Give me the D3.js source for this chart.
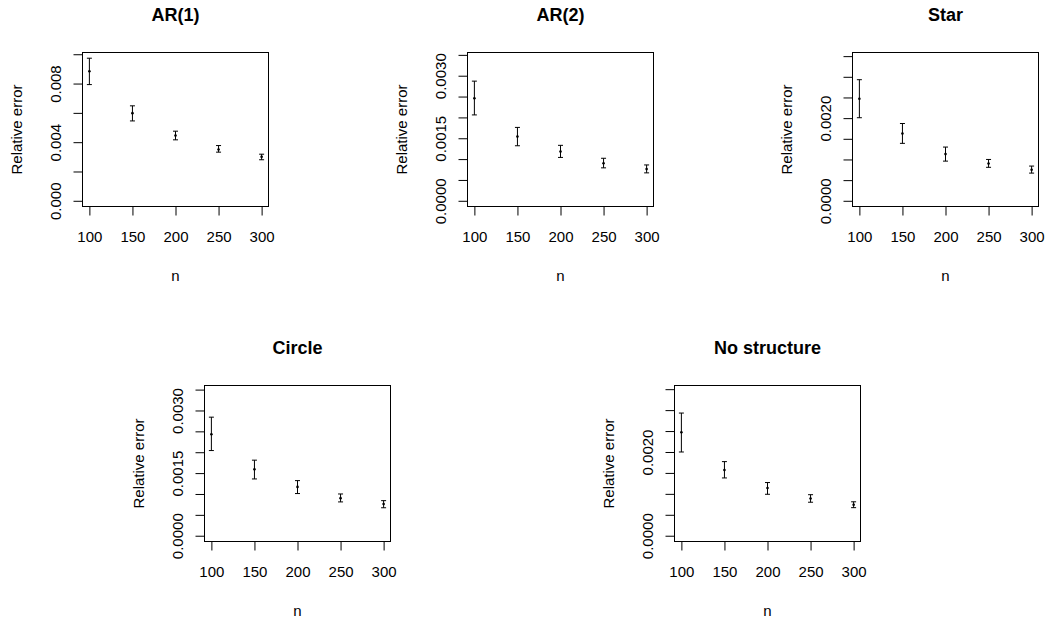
<!DOCTYPE html>
<html>
<head>
<meta charset="utf-8">
<script src="https://cdn.jsdelivr.net/npm/d3@7"></script>
<style>
  html, body { margin: 0; padding: 0; background: #ffffff; }
  svg text { font-family: "Liberation Sans", Arial, sans-serif; fill: #000; }
</style>
</head>
<body>
<div id="chart"></div>
<script>
// ############################################################################
// Relative error by n, one small panel per covariance structure
// ############################################################################

// ----------------------------------------------------------------------------
// Data
// ----------------------------------------------------------------------------

const nValues = [100, 150, 200, 250, 300]

const panelTitles = ["AR(1)", "AR(2)", "Star", "Circle", "No structure"]

const ar1Mean  = [0.00884, 0.00598, 0.00445, 0.00350, 0.00300]
const ar1Lower = [0.00793, 0.00545, 0.00416, 0.00332, 0.00280]
const ar1Upper = [0.00973, 0.00648, 0.00475, 0.00377, 0.00318]

const ar2Mean  = [0.00246, 0.00154, 0.00118, 0.00090, 0.00076]
const ar2Lower = [0.00206, 0.00132, 0.00104, 0.00079, 0.00067]
const ar2Upper = [0.00287, 0.00176, 0.00133, 0.00102, 0.00086]

const starMean  = [0.00247, 0.00163, 0.00113, 0.00090, 0.00075]
const starLower = [0.00201, 0.00139, 0.00096, 0.00081, 0.00067]
const starUpper = [0.00293, 0.00187, 0.00130, 0.00100, 0.00084]

const circleMean  = [0.00243, 0.00159, 0.00117, 0.00090, 0.00076]
const circleLower = [0.00204, 0.00136, 0.00101, 0.00081, 0.00067]
const circleUpper = [0.00284, 0.00181, 0.00132, 0.00100, 0.00084]

const noneMean  = [0.00247, 0.00157, 0.00114, 0.00089, 0.00074]
const noneLower = [0.00200, 0.00138, 0.00099, 0.00080, 0.00067]
const noneUpper = [0.00293, 0.00177, 0.00127, 0.00098, 0.00081]

// y axis: upper limit, tick step, which ticks carry a label, decimals
const yLimits     = [0.00973, 0.00342, 0.00345, 0.00346, 0.00345]
const yTickSteps  = [0.002, 0.0005, 0.0005, 0.0005, 0.0005]
const yTickMax    = [0.010, 0.0035, 0.0035, 0.0035, 0.0035]
const yLabelled   = [
  [0, 0.004, 0.008],
  [0, 0.0015, 0.0030],
  [0, 0.0020],
  [0, 0.0015, 0.0030],
  [0, 0.0020]
]
const yDecimals   = [3, 4, 4, 4, 4]

const xTicks = [100, 150, 200, 250, 300]

const seriesMean  = [ar1Mean, ar2Mean, starMean, circleMean, noneMean]
const seriesLower = [ar1Lower, ar2Lower, starLower, circleLower, noneLower]
const seriesUpper = [ar1Upper, ar2Upper, starUpper, circleUpper, noneUpper]


// ----------------------------------------------------------------------------
// Layout (plot box of each panel, in pixels)
// ----------------------------------------------------------------------------

const width = 1047
const height = 619

const boxes = [
  { x: 82.5,  y: 52.5,  w: 186, h: 154 },
  { x: 467.5, y: 52.5,  w: 186, h: 154 },
  { x: 852.5, y: 52.5,  w: 186, h: 154 },
  { x: 204.5, y: 385.5, w: 186, h: 156 },
  { x: 674.5, y: 385.5, w: 186, h: 156 }
]

const fontSize = 15
const titleSize = 18
const tickLen = 9
const capHalf = 2.5

const svg = d3.select("#chart")
  .append("svg")
  .attr("width", width)
  .attr("height", height)
  .style("background-color", "#ffffff")


// ============================================================================
// Draw one panel
// ============================================================================

function drawPanel(i)
{
  const box = boxes[i]
  const g = svg.append("g")
    .attr("transform", "translate(" + box.x + "," + box.y + ")")

  // Scales (R style: 4% padding on both ends)
  const xPad = (d3.max(nValues) - d3.min(nValues)) * 0.04
  const x = d3.scaleLinear()
    .domain([d3.min(nValues) - xPad, d3.max(nValues) + xPad])
    .range([0, box.w])

  const yPad = yLimits[i] * 0.04
  const y = d3.scaleLinear()
    .domain([-yPad, yLimits[i] + yPad])
    .range([box.h, 0])

  // Y ticks
  const yTicks = d3.range(0, yTickMax[i] + yTickSteps[i] / 2, yTickSteps[i])
  const labelled = yLabelled[i]
  const isLabelled = v => labelled.some(l => Math.abs(l - v) < 1e-9)

  const yAxis = g.append("g")
    .call(d3.axisLeft(y)
      .tickValues(yTicks)
      .tickSize(tickLen)
      .tickFormat(v => isLabelled(v) ? d3.format("." + yDecimals[i] + "f")(v) : ""))

  yAxis.select(".domain").remove()
  yAxis.selectAll("line").attr("stroke", "#000")
  yAxis.selectAll("text")
    .attr("x", null)
    .attr("dy", null)
    .attr("y", -21.5)
    .attr("transform", "rotate(-90)")
    .attr("text-anchor", "middle")
    .style("font-size", fontSize + "px")
    .style("font-family", "'Liberation Sans', Arial, sans-serif")

  // X ticks
  const xAxis = g.append("g")
    .attr("transform", "translate(0," + box.h + ")")
    .call(d3.axisBottom(x)
      .tickValues(xTicks)
      .tickSize(tickLen)
      .tickFormat(d3.format("d")))

  xAxis.select(".domain").remove()
  xAxis.selectAll("line").attr("stroke", "#000")
  xAxis.selectAll("text")
    .attr("dy", null)
    .attr("y", 35.5)
    .style("font-size", fontSize + "px")
    .style("font-family", "'Liberation Sans', Arial, sans-serif")

  // Plot box
  g.append("rect")
    .attr("x", 0)
    .attr("y", 0)
    .attr("width", box.w)
    .attr("height", box.h)
    .attr("fill", "none")
    .attr("stroke", "#000")
    .attr("stroke-width", 1)

  // Error bars
  const rows = nValues.map((n, k) => ({
    n: n,
    mean: seriesMean[i][k],
    lo: seriesLower[i][k],
    hi: seriesUpper[i][k]
  }))

  const bars = g.append("g")
    .attr("stroke", "#000")
    .attr("stroke-width", 1)

  bars.selectAll(".stem").data(rows).join("line")
    .attr("class", "stem")
    .attr("x1", d => x(d.n)).attr("x2", d => x(d.n))
    .attr("y1", d => y(d.lo)).attr("y2", d => y(d.hi))

  bars.selectAll(".cap-hi").data(rows).join("line")
    .attr("class", "cap-hi")
    .attr("x1", d => x(d.n) - capHalf).attr("x2", d => x(d.n) + capHalf)
    .attr("y1", d => y(d.hi)).attr("y2", d => y(d.hi))

  bars.selectAll(".cap-lo").data(rows).join("line")
    .attr("class", "cap-lo")
    .attr("x1", d => x(d.n) - capHalf).attr("x2", d => x(d.n) + capHalf)
    .attr("y1", d => y(d.lo)).attr("y2", d => y(d.lo))

  g.append("g").selectAll("circle").data(rows).join("circle")
    .attr("cx", d => x(d.n))
    .attr("cy", d => y(d.mean))
    .attr("r", 1.3)
    .attr("fill", "#000")

  // Title
  g.append("text")
    .attr("x", box.w / 2)
    .attr("y", -32)
    .attr("text-anchor", "middle")
    .style("font-size", titleSize + "px")
    .style("font-weight", "bold")
    .text(panelTitles[i])

  // Axis titles
  g.append("text")
    .attr("x", box.w / 2)
    .attr("y", box.h + 74)
    .attr("text-anchor", "middle")
    .style("font-size", fontSize + "px")
    .text("n")

  g.append("text")
    .attr("transform", "rotate(-90)")
    .attr("x", -box.h / 2)
    .attr("y", -60.5)
    .attr("text-anchor", "middle")
    .style("font-size", fontSize + "px")
    .text("Relative error")
}

panelTitles.forEach((t, i) => drawPanel(i))
</script>
</body>
</html>
